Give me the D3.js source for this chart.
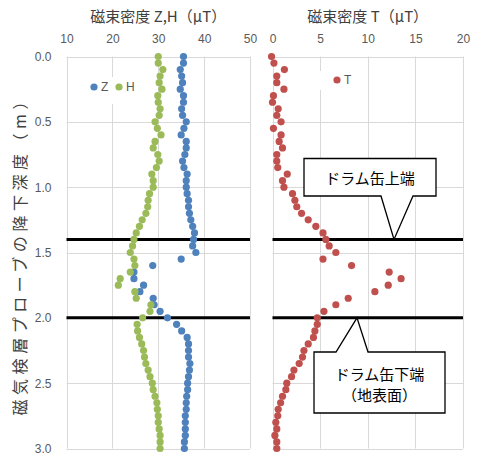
<!DOCTYPE html>
<html>
<head>
<meta charset="utf-8">
<script src="https://cdn.jsdelivr.net/npm/d3@7"></script>
<style>
  html, body { margin: 0; padding: 0; background: #fff; }
  svg { display: block; }
  .tick text { font-family: "Liberation Sans", Arial, sans-serif; font-size: 12px; fill: #595959; }
</style>
</head>
<body>
<svg id="chart" width="478" height="453"></svg>
<script>
// Probe depth (m) at each reading
const depth = [
  0.00, 0.05, 0.10, 0.15, 0.20, 0.25, 0.30, 0.35, 0.40, 0.45,
  0.50, 0.55, 0.60, 0.65, 0.70, 0.75, 0.80, 0.85, 0.90, 0.95,
  1.00, 1.05, 1.10, 1.15, 1.20, 1.25, 1.30, 1.35, 1.40, 1.45,
  1.50, 1.55, 1.60, 1.65, 1.70, 1.75, 1.80, 1.85, 1.90, 1.95,
  2.00, 2.05, 2.10, 2.15, 2.20, 2.25, 2.30, 2.35, 2.40, 2.45,
  2.50, 2.55, 2.60, 2.65, 2.70, 2.75, 2.80, 2.85, 2.90, 2.95,
  3.00
];

// Vertical component Z (μT)
const zValues = [
  35.5, 35.5, 34.8, 35.1, 35.3, 34.8, 35.5, 35.5, 35.1, 35.3,
  36.1, 35.6, 35.0, 36.1, 36.1, 35.8, 35.3, 35.6, 36.3, 36.1,
  36.1, 36.3, 36.6, 36.6, 36.8, 37.1, 37.5, 37.9, 37.7, 37.5,
  38.2, 35.0, 28.8, 24.7, 24.7, 26.8, 26.0, 28.9, 29.1, 30.4,
  32.0, 34.0, 35.1, 36.3, 36.6, 36.6, 36.6, 36.9, 36.8, 36.6,
  36.4, 36.4, 36.2, 36.1, 36.1, 35.9, 35.9, 35.9, 35.9, 35.7,
  35.7
];

// Horizontal component H (μT)
const hValues = [
  30.0, 30.0, 31.0, 30.4, 30.2, 30.8, 29.9, 30.0, 30.4, 30.2,
  29.3, 29.8, 30.6, 29.3, 28.9, 29.9, 30.2, 29.6, 28.6, 28.9,
  28.9, 28.1, 27.8, 27.7, 27.3, 26.5, 25.9, 25.2, 24.7, 24.4,
  23.9, 24.7, 24.9, 23.9, 21.7, 21.3, 24.9, 25.2, 28.4, 28.2,
  26.6, 25.4, 25.5, 25.9, 26.4, 26.8, 27.0, 27.3, 27.8, 28.2,
  28.7, 28.9, 29.3, 29.7, 29.8, 30.0, 30.0, 30.2, 30.4, 30.4,
  30.4
];

// Total field T (μT)
const tValues = [
  -0.1, 0.15, 1.25, 0.45, 0.45, 1.2, 0.1, 0.0, 0.6, 0.45,
  0.9, 0.1, 0.9, 0.7, 1.05, 0.45, 0.45, 0.55, 1.55, 1.05,
  1.2, 2.1, 2.35, 2.55, 3.05, 3.75, 4.55, 5.3, 5.6, 5.95,
  6.65, 5.3, 8.3, 12.25, 13.5, 12.15, 10.75, 7.95, 6.65, 5.4,
  4.7, 4.7, 4.45, 4.3, 3.75, 3.3, 3.15, 2.8, 2.25, 2.0,
  1.5, 1.4, 1.05, 0.85, 0.6, 0.55, 0.35, 0.45, 0.25, 0.45,
  0.45
];

// Axis ticks
const xTicksLeft = [10, 20, 30, 40, 50];
const xTicksRight = [0, 5, 10, 15, 20];
const yTicks = [0.0, 0.5, 1.0, 1.5, 2.0, 2.5, 3.0];

// Drum can top / bottom depths (m)
const drumLevels = [1.4, 2.0];

const colors = { Z: "#4f81bd", H: "#9bbb59", T: "#c0504d" };
const cjk = '"Noto Sans CJK JP", "Noto Sans", sans-serif';

const svg = d3.select("#chart");

const y = d3.scaleLinear().domain([0, 3]).range([56.5, 448.5]);
const xL = d3.scaleLinear().domain([10, 50]).range([66.5, 250]);
const xR = d3.scaleLinear().domain([0, 20]).range([272.5, 463]);

function grid(x, xt) {
  const g = svg.append("g").attr("stroke", "#d9d9d9").attr("stroke-width", 1);
  g.selectAll("line.v").data(xt).join("line")
    .attr("x1", d => Math.round(x(d)) + 0.5).attr("x2", d => Math.round(x(d)) + 0.5)
    .attr("y1", y(0)).attr("y2", y(3));
  g.selectAll("line.h").data(yTicks).join("line")
    .attr("x1", x.range()[0]).attr("x2", x.range()[1])
    .attr("y1", d => Math.round(y(d)) + 0.5).attr("y2", d => Math.round(y(d)) + 0.5);
}
grid(xL, xTicksLeft);
grid(xR, xTicksRight);

// Top axes
function topAxis(x, xt) {
  const g = svg.append("g").attr("transform", `translate(0,${y(0)})`)
    .call(d3.axisTop(x).tickValues(xt).tickSize(0).tickPadding(14).tickFormat(d3.format("d")));
  g.select(".domain").remove();
}
topAxis(xL, xTicksLeft);
topAxis(xR, xTicksRight);

// Left depth axis
const ya = svg.append("g").attr("transform", `translate(${xL.range()[0]},0)`)
  .call(d3.axisLeft(y).tickValues(yTicks).tickSize(0).tickPadding(15).tickFormat(d3.format(".1f")));
ya.select(".domain").remove();

// Legends (white box behind)
svg.append("rect").attr("x", 82).attr("y", 77).attr("width", 60).attr("height", 27).attr("fill", "#fff");
svg.append("rect").attr("x", 319).attr("y", 71).attr("width", 38).attr("height", 19).attr("fill", "#fff");

function legendItem(cx, cy, color, label) {
  svg.append("circle").attr("cx", cx).attr("cy", cy).attr("r", 3.6).attr("fill", color);
  svg.append("text").attr("x", cx + 7).attr("y", cy + 4.3)
    .attr("font-family", '"Liberation Sans", Arial, sans-serif').attr("font-size", 12)
    .attr("fill", "#595959").text(label);
}
legendItem(94, 87, colors.Z, "Z");
legendItem(119, 87, colors.H, "H");
legendItem(337, 80, colors.T, "T");

// Drum can level lines
[xL, xR].forEach(x => {
  svg.selectAll(null).data(drumLevels).join("line")
    .attr("x1", x.range()[0]).attr("x2", x.range()[1])
    .attr("y1", d => y(d)).attr("y2", d => y(d))
    .attr("stroke", "#000").attr("stroke-width", 3);
});

// Scatter series
function dots(x, vals, color) {
  svg.append("g").selectAll("circle").data(vals).join("circle")
    .attr("cx", d => x(d)).attr("cy", (d, i) => y(depth[i]))
    .attr("r", 3.6).attr("fill", color);
}
dots(xL, zValues, colors.Z);
dots(xL, hValues, colors.H);
dots(xR, tValues, colors.T);

// Titles
svg.append("text").attr("x", (xL.range()[0] + xL.range()[1]) / 2).attr("y", 22)
  .attr("text-anchor", "middle").attr("font-family", cjk).attr("font-size", 15).attr("fill", "#404040")
  .text("磁束密度 Z,H（μT）");
svg.append("text").attr("x", (xR.range()[0] + xR.range()[1]) / 2).attr("y", 22)
  .attr("text-anchor", "middle").attr("font-family", cjk).attr("font-size", 15).attr("fill", "#404040")
  .text("磁束密度 T（μT）");

svg.append("text")
  .attr("transform", `translate(26,${(y(0) + y(3)) / 2 + 2}) rotate(-90)`)
  .attr("text-anchor", "middle").attr("font-family", cjk).attr("font-size", 16).attr("fill", "#404040")
  .attr("textLength", 322).attr("lengthAdjust", "spacing")
  .text("磁気検層プローブの降下深度（m）");

// Callouts
const tip1 = y(drumLevels[0]);
svg.append("path")
  .attr("d", `M304,158.5 H436 V196 H413 L394,${tip1} L381,196 H304 Z`)
  .attr("fill", "#fff").attr("stroke", "#000").attr("stroke-width", 1.3).attr("stroke-linejoin", "miter");
svg.append("text").attr("x", 370).attr("y", 183.5).attr("text-anchor", "middle")
  .attr("font-family", cjk).attr("font-size", 15).attr("fill", "#000").text("ドラム缶上端");

const tip2 = y(drumLevels[1]);
svg.append("path")
  .attr("d", `M314,352 H336 L357,${tip2} L368,352 H445 V413 H314 Z`)
  .attr("fill", "#fff").attr("stroke", "#000").attr("stroke-width", 1.3).attr("stroke-linejoin", "miter");
svg.append("text").attr("x", 379.5).attr("y", 379.5).attr("text-anchor", "middle")
  .attr("font-family", cjk).attr("font-size", 15).attr("fill", "#000").text("ドラム缶下端");
svg.append("text").attr("x", 379.5).attr("y", 400.5).attr("text-anchor", "middle")
  .attr("font-family", cjk).attr("font-size", 15).attr("fill", "#000").text("（地表面）");
</script>
</body>
</html>
